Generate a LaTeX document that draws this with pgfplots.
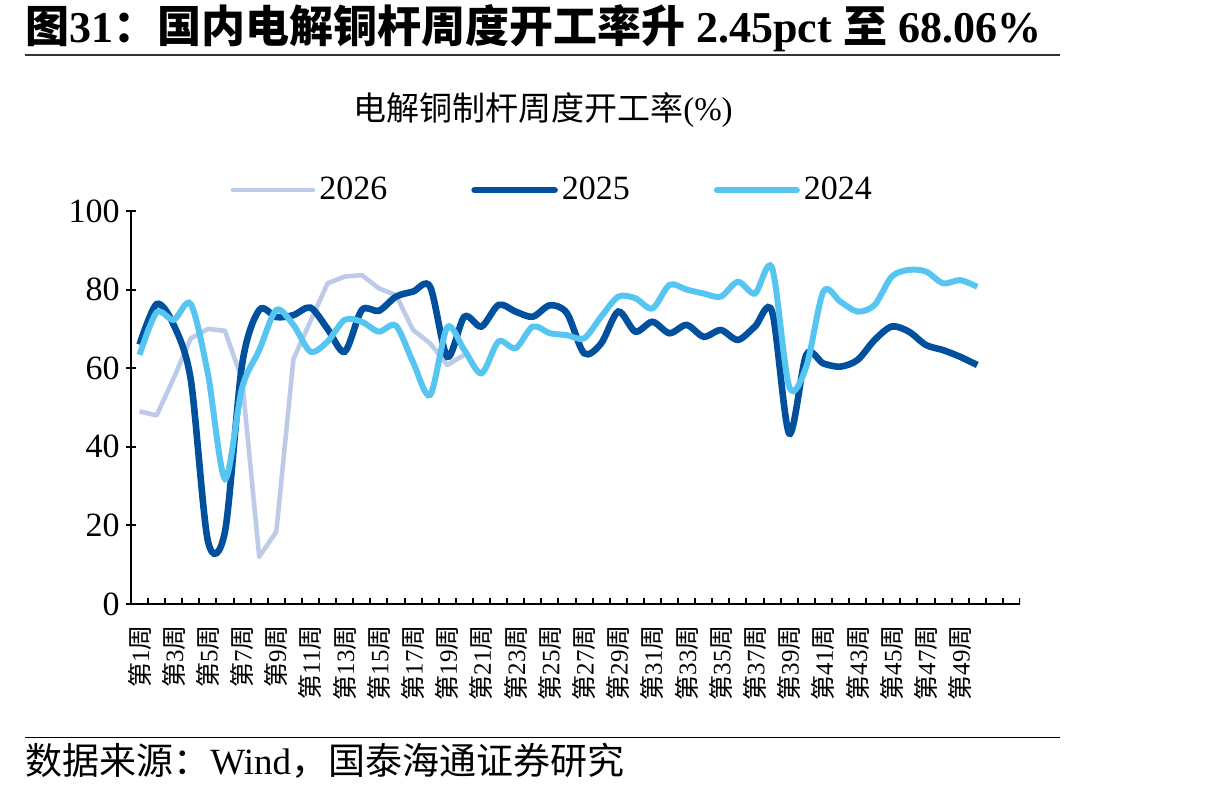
\documentclass[border=0pt]{standalone}
\usepackage{fontspec}
\setmainfont{Liberation Serif}
\newfontfamily\cjk{Noto Sans CJK SC}
\usepackage{pgfplots}
\pgfplotsset{compat=1.18}
\usepackage{pgfplotstable}
\definecolor{c26}{RGB}{189,203,233}
\definecolor{c25}{RGB}{0,80,157}
\definecolor{c24}{RGB}{86,197,242}
\newcommand{\wk}[1]{{\cjk 第}#1{\cjk 周}}

\pgfplotstableread{
w v
1 49
2 48
3 57.5
4 67.6
5 70
6 69.5
7 57
8 12
9 18.4
10 62.3
11 72
12 81.6
13 83.3
14 83.7
15 80.3
16 78.6
17 69.7
18 66.3
19 60.8
20 63.4
}\dataA

\pgfplotstableread{
w v
1 66
2 76.3
3 71
4 57
5 16
6 18.5
7 61
8 74.8
9 73
10 73.5
11 75.4
12 70
13 64.2
14 74.8
15 74.6
16 78.2
17 79.5
18 80.7
19 62.9
20 73.1
21 70.6
22 76.1
23 74.4
24 73.1
25 76
26 74
27 63.8
28 66.3
29 74.4
30 69.3
31 71.8
32 68.9
33 71
34 68
35 69.7
36 67.2
37 70.6
38 74.4
39 43.4
40 63.4
41 61.2
42 60.4
43 62.1
44 67.2
45 70.6
46 69.3
47 65.9
48 64.6
49 62.9
50 60.8
}\dataB

\pgfplotstableread{
w v
1 63.4
2 74.2
3 72.3
4 76.3
5 58.5
6 31.8
7 55
8 64.6
9 74.8
10 71
11 64.2
12 66.8
13 72.3
14 71.8
15 69.3
16 70.8
17 61.5
18 53.2
19 70.4
20 64.6
21 58.7
22 66.8
23 65.1
24 70.6
25 68.9
26 68.4
27 67.6
28 73.1
29 78.2
30 77.8
31 75.2
32 81.2
33 80
34 79
35 78.2
36 82
37 79
38 85.5
39 55.3
40 60.4
41 79.5
42 76.9
43 74.4
44 76.1
45 83.3
46 85
47 84.6
48 81.6
49 82.4
50 80.7
}\dataC

\begin{document}
\begin{tikzpicture}
\path[use as bounding box] (0,0) rectangle (607.5pt,397.5pt);
\node[anchor=base west, inner sep=0pt] at (12.5pt,376pt)
  {\fontsize{22}{24}\selectfont\bfseries{\cjk 图}31{\cjk ：国内电解铜杆周度开工率升} 2.45pct {\cjk 至} 68.06\%};
\draw[line width=1pt, black!80] (12.5pt,370pt) -- (530pt,370pt);
\node[anchor=center, inner sep=0pt] at (271.5pt,342.5pt)
  {\fontsize{16.5}{18}\selectfont{\cjk 电解铜制杆周度开工率}(\%)};
\begin{axis}[
  at={(65.5pt,95.5pt)}, anchor=south west,
  scale only axis, width=444.5pt, height=196.5pt,
  xmin=0.5, xmax=52.5, ymin=0, ymax=100,
  axis lines=left, axis line style={-, line width=1pt},
  ytick={0,20,...,100}, major tick length=5pt,
  tick style={line width=1pt, black},
  xtick={1,3,...,49},
  xticklabels={\wk{1},\wk{3},\wk{5},\wk{7},\wk{9},\wk{11},\wk{13},\wk{15},\wk{17},\wk{19},\wk{21},\wk{23},\wk{25},\wk{27},\wk{29},\wk{31},\wk{33},\wk{35},\wk{37},\wk{39},\wk{41},\wk{43},\wk{45},\wk{47},\wk{49}},
  xtick style={draw=none},
  xticklabel style={rotate=90, anchor=east, inner sep=0pt, font=\fontsize{12.5}{14}\selectfont},
  xticklabel shift=8pt,
  yticklabel style={inner sep=0pt, font=\fontsize{17}{20}\selectfont},
  yticklabel shift=3pt,
  /pgf/number format/assume math mode=true,
  legend columns=3,
  legend style={at={(0.475,1.053)}, anchor=center, draw=none, fill=none,
    font=\fontsize{17}{20}\selectfont,
    /tikz/every even column/.append style={column sep=40pt}},
  legend image code/.code={\draw[#1, line cap=round] (0pt,0pt) -- (40pt,0pt);},
]
\addplot[color=c26, line width=2.3pt, line join=round, no markers] table[x=w,y=v] {\dataA};
\addlegendentry{2026}
\addplot[color=c25, line width=3.3pt, smooth, no markers] table[x=w,y=v] {\dataB};
\addlegendentry{2025}
\addplot[color=c24, line width=3pt, smooth, no markers] table[x=w,y=v] {\dataC};
\addlegendentry{2024}
\pgfplotsinvokeforeach{0,...,52}{\draw[line width=1pt] (axis cs:#1.5,0) -- ++(0pt,3pt);}
\end{axis}
\draw[line width=0.5pt] (12.5pt,28.5pt) -- (530pt,28.5pt);
\node[anchor=base west, inner sep=0pt] at (12.5pt,10pt)
  {\fontsize{18.5}{20}\selectfont{\cjk 数据来源：}Wind{\cjk ，国泰海通证券研究}};
\end{tikzpicture}
\end{document}
